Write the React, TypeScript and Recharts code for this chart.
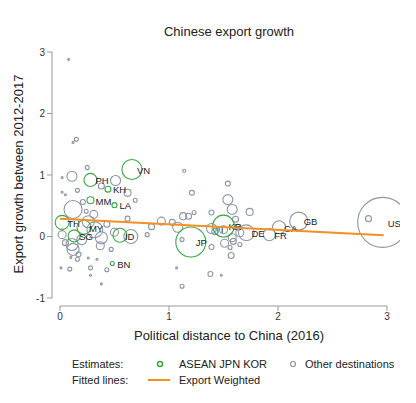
import React from 'react';
import { ScatterChart, Scatter, XAxis, YAxis, ZAxis, ReferenceLine } from 'recharts';

interface Country {
  name?: string;
  x: number;
  y: number;
  w: number;
}

// ASEAN + Japan + Korea (green)
const aseanPoints: Country[] = [
  { name: 'VN', x: 0.66, y: 1.09, w: 16 },
  { name: 'PH', x: 0.28, y: 0.92, w: 6.8 },
  { name: 'KH', x: 0.44, y: 0.77, w: 1.4 },
  { name: 'MM', x: 0.28, y: 0.59, w: 2 },
  { name: 'LA', x: 0.5, y: 0.51, w: 1 },
  { name: 'TH', x: 0.02, y: 0.23, w: 7.8 },
  { name: 'MY', x: 0.22, y: 0.15, w: 7.8 },
  { name: 'SG', x: 0.13, y: 0.01, w: 5.8 },
  { name: 'ID', x: 0.55, y: 0.02, w: 7.8 },
  { name: 'BN', x: 0.48, y: -0.44, w: 0.64 },
  { name: 'JP', x: 1.2, y: -0.09, w: 36 },
  { name: 'KR', x: 1.5, y: 0.17, w: 19 },
];

// Labelled other destinations
const labelledOthers: Country[] = [
  { name: 'US', x: 2.96, y: 0.23, w: 100 },
  { name: 'GB', x: 2.19, y: 0.25, w: 13 },
  { name: 'CA', x: 2.01, y: 0.15, w: 6.8 },
  { name: 'FR', x: 1.92, y: 0.03, w: 5.8 },
  { name: 'DE', x: 1.71, y: 0.06, w: 10 },
  { name: 'IT', x: 1.39, y: 0.13, w: 4 },
];

// Unlabelled other destinations: [x, y, weight]
const otherRaw: [number, number, number][] = [
  [0.08, 2.88, 0.16], [0.15, 1.58, 0.64], [0.12, 1.53, 0.16], [1.14, 1.07, 0.36],
  [0.11, 0.98, 4], [0.02, 0.96, 0.16], [0.25, 1.12, 0.64], [0.51, 0.91, 4],
  [0.38, 0.82, 1.44], [0.16, 0.75, 0.64], [0.62, 0.71, 2], [1.21, 0.71, 1],
  [1.54, 0.86, 1], [1.54, 0.6, 4], [1.58, 0.44, 4], [1.74, 0.4, 2],
  [1.39, 0.39, 1], [1.61, 0.28, 1.44], [1.65, 0.06, 2.56], [1.58, -0.02, 2.56],
  [1.59, -0.08, 1.44], [1.56, -0.18, 0.64], [1.39, -0.17, 1], [1.57, -0.31, 1.44],
  [1.38, -0.61, 1], [1.48, -0.63, 0.16], [1.12, -0.81, 0.64], [1.07, -0.51, 0.16],
  [1.12, -0.05, 0.64], [1.23, 0.39, 0.64], [1.13, 0.33, 2], [1.08, 0.15, 4],
  [0.93, 0.25, 2.56], [0.84, 0.16, 1.44], [0.8, 0.03, 0.64], [0.65, 0.0, 7.8],
  [0.62, 0.29, 1], [0.69, 0.59, 0.64], [0.21, 0.56, 1], [0.12, 0.44, 13],
  [0.31, 0.36, 2.56], [0.38, -0.02, 5.8], [0.11, -0.13, 5.8], [0.02, 0.03, 2.56],
  [0.12, -0.21, 5.8], [0.16, -0.37, 0.64], [0.1, -0.34, 0.16], [0.26, -0.35, 0.16],
  [0.34, -0.37, 0.16], [0.47, -0.21, 0.64], [0.09, -0.53, 0.64], [0.01, -0.51, 0.16],
  [0.28, -0.51, 0.64], [0.43, -0.54, 0.64], [0.28, -0.63, 0.16], [0.38, -0.77, 0.16],
  [2.83, 0.29, 1.44], [0.05, 0.68, 0.16], [0.02, 0.72, 0.16], [0.26, 0.24, 5.8],
  [0.32, 0.11, 10], [0.2, -0.05, 4], [0.05, -0.1, 1.44], [0.37, -0.15, 2.56],
  [0.43, 0.2, 1.44], [0.24, 0.41, 0.64], [0.17, -0.29, 1], [0.5, 0.07, 2.56],
  [1.5, 0.11, 2.56], [1.63, 0.15, 1.44], [1.51, -0.11, 2.56], [1.42, 0.08, 1.44],
  [1.65, -0.13, 0.64], [1.18, 0.33, 1.44], [1.03, 0.23, 1.44],
];

// Export-weighted fitted line endpoints
const fitX = [0, 2.97];
const fitY = [0.29, 0.02];

const xTicks = [0, 1, 2, 3];
const yTicks = [-1, 0, 1, 2, 3];

const otherPoints: Country[] = [
  ...labelledOthers,
  ...otherRaw.map(([x, y, w]) => ({ x, y, w })),
];
const fitData = fitX.map((x, i) => ({ x, y: fitY[i], w: 0 }));

const GREEN = '#3aa845';
const GREY = '#8d95a6';
const ORANGE = '#f39020';
const FONT = '"Liberation Sans", Arial, sans-serif';

const makeBubble = (color: string) => (props: any) => {
  const { cx, cy, size, payload } = props;
  if (cx == null || cy == null) return <g />;
  const r = Math.max(Math.sqrt((size || 0) / Math.PI), 1);
  return (
    <g>
      <circle cx={cx} cy={cy} r={r} fill="none" stroke={color} strokeWidth={1.1} />
      {payload && payload.name && (
        <text x={cx + 5} y={cy + 1} dy="0.35em" fontSize={9.5} fill="#222" fontFamily={FONT}>
          {payload.name}
        </text>
      )}
    </g>
  );
};

const App: React.FC = () => {
  const xMin = -0.073;
  const yMin = -1.13;
  return (
    <div style={{ position: 'absolute', left: 0, top: 0, width: 416, height: 403, background: '#fff' }}>
      <ScatterChart width={416} height={403} margin={{ top: 40, right: 16, left: 32, bottom: 67 }}>
        <XAxis
          type="number"
          dataKey="x"
          domain={[xMin, 3.119]}
          ticks={xTicks}
          axisLine={false}
          tickLine={{ stroke: '#999' }}
          tickSize={5}
          tick={{ fontSize: 10, fill: '#333', fontFamily: FONT }}
          height={30}
          allowDataOverflow
        />
        <YAxis
          type="number"
          dataKey="y"
          domain={[yMin, 3.195]}
          ticks={yTicks}
          axisLine={false}
          tickLine={{ stroke: '#999' }}
          tickSize={5}
          tick={{ fontSize: 10, fill: '#333', fontFamily: FONT }}
          width={20}
          allowDataOverflow
        />
        <ZAxis type="number" dataKey="w" domain={[0, 100]} range={[0, 1963]} />
        <ReferenceLine
          segment={[{ x: xTicks[0], y: yMin }, { x: xTicks[xTicks.length - 1], y: yMin }]}
          stroke="#999"
          ifOverflow="visible"
        />
        <ReferenceLine
          segment={[{ x: xMin, y: yTicks[0] }, { x: xMin, y: yTicks[yTicks.length - 1] }]}
          stroke="#999"
          ifOverflow="visible"
        />
        <Scatter data={otherPoints} shape={makeBubble(GREY)} isAnimationActive={false} />
        <Scatter data={aseanPoints} shape={makeBubble(GREEN)} isAnimationActive={false} />
        <Scatter
          data={fitData}
          line={{ stroke: ORANGE, strokeWidth: 2 }}
          shape={() => <g />}
          isAnimationActive={false}
        />
      </ScatterChart>
      <svg
        width={416}
        height={403}
        style={{ position: 'absolute', left: 0, top: 0, pointerEvents: 'none' }}
        fontFamily={FONT}
      >
        <text x={229} y={31} dy="0.35em" textAnchor="middle" fontSize={13} fill="#222">
          Chinese export growth
        </text>
        <text
          x={18}
          y={174}
          dy="0.35em"
          textAnchor="middle"
          fontSize={13}
          fill="#222"
          transform="rotate(-90 18 174)"
        >
          Export growth between 2012-2017
        </text>
        <text x={229} y={335} dy="0.35em" textAnchor="middle" fontSize={13} fill="#222">
          Political distance to China (2016)
        </text>
        <g fontSize={11} fill="#222">
          <text x={72} y={364} dy="0.35em">Estimates:</text>
          <circle cx={160} cy={364} r={2.5} fill="none" stroke={GREEN} strokeWidth={1.5} />
          <text x={179} y={364} dy="0.35em">ASEAN JPN KOR</text>
          <circle cx={293} cy={364} r={2.5} fill="none" stroke={GREY} strokeWidth={1.2} />
          <text x={305} y={364} dy="0.35em">Other destinations</text>
          <text x={72} y={380} dy="0.35em">Fitted lines:</text>
          <line x1={148} y1={380} x2={170} y2={380} stroke={ORANGE} strokeWidth={2} />
          <text x={179} y={380} dy="0.35em">Export Weighted</text>
        </g>
      </svg>
    </div>
  );
};

export default App;
